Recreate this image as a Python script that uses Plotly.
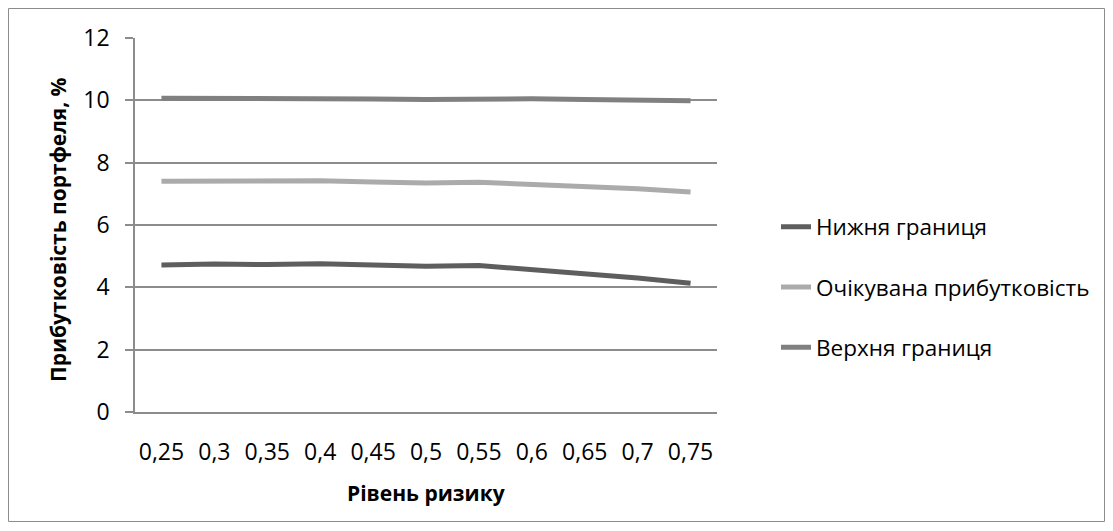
import plotly.graph_objects as go

categories = ["0,25", "0,3", "0,35", "0,4", "0,45", "0,5", "0,55", "0,6", "0,65", "0,7", "0,75"]
lower = [4.72, 4.75, 4.73, 4.76, 4.72, 4.68, 4.70, 4.57, 4.46, 4.30, 4.13]
expected = [7.40, 7.41, 7.39, 7.42, 7.38, 7.35, 7.37, 7.31, 7.25, 7.16, 7.06]
upper = [10.07, 10.07, 10.05, 10.08, 10.04, 10.03, 10.05, 10.05, 10.03, 10.01, 9.99]
series_names = ["Нижня границя", "Очікувана прибутковість", "Верхня границя"]
y_ticks = [0, 2, 4, 6, 8, 10, 12]

FONT = "Open Sans"
x_idx = list(range(len(categories)))

fig = go.Figure()
for name, vals, col in zip(series_names, [lower, expected, upper], ["#5e5e5e", "#ababab", "#808080"]):
    fig.add_trace(go.Scatter(x=x_idx, y=vals, mode="lines", name=name, legendgroup=name,
                             line=dict(color=col, width=5)))

W, H = 1113, 531
L, R, T, B = 135, 717, 38, 412
pw, ph = R - L, B - T

def px_to_paper_x(px):
    return (px - L) / pw

def px_to_paper_y(py):
    return (B - py) / ph

fig.update_layout(
    width=W, height=H,
    margin=dict(l=L, r=W - R, t=T, b=H - B),
    paper_bgcolor="white", plot_bgcolor="white",
    font=dict(family=FONT, size=22, color="black"),
    showlegend=True,
    legend=dict(x=px_to_paper_x(776), y=px_to_paper_y(287), xanchor="left", yanchor="middle",
                font=dict(family=FONT, size=22.5, color="black"), tracegroupgap=28,
                bgcolor="rgba(0,0,0,0)"),
    xaxis=dict(tickvals=x_idx, ticktext=categories, range=[-0.5, len(categories) - 0.5],
               showgrid=False, showline=True, linecolor="#8c8c8c", linewidth=1.5,
               ticks="", zeroline=False, ticklabelstandoff=19,
               tickfont=dict(family=FONT, size=23)),
    yaxis=dict(range=[0, 12], tickvals=y_ticks, ticktext=[str(v) for v in y_ticks],
               showgrid=True, gridcolor="#8c8c8c", gridwidth=1.5,
               showline=True, linecolor="#8c8c8c", linewidth=1.5,
               ticks="outside", ticklen=8, tickcolor="#8c8c8c", tickwidth=1.5,
               zeroline=False, ticklabelstandoff=11,
               tickfont=dict(family=FONT, size=23)),
    shapes=[dict(type="rect", xref="paper", yref="paper",
                 x0=px_to_paper_x(8.5), x1=px_to_paper_x(1104.5),
                 y0=px_to_paper_y(521.5), y1=px_to_paper_y(8.5),
                 line=dict(color="#8c8c8c", width=1), layer="below")],
    annotations=[
        dict(text="<b>Прибутковість портфеля, %</b>", xref="paper", yref="paper",
             x=px_to_paper_x(58), y=px_to_paper_y(230), textangle=-90, showarrow=False,
             xanchor="center", yanchor="middle", font=dict(family=FONT, size=21)),
        dict(text="<b>Рівень ризику</b>", xref="paper", yref="paper",
             x=px_to_paper_x(426), y=px_to_paper_y(493), showarrow=False,
             xanchor="center", yanchor="middle", font=dict(family=FONT, size=21)),
    ],
)

fig.write_html("out.html")
